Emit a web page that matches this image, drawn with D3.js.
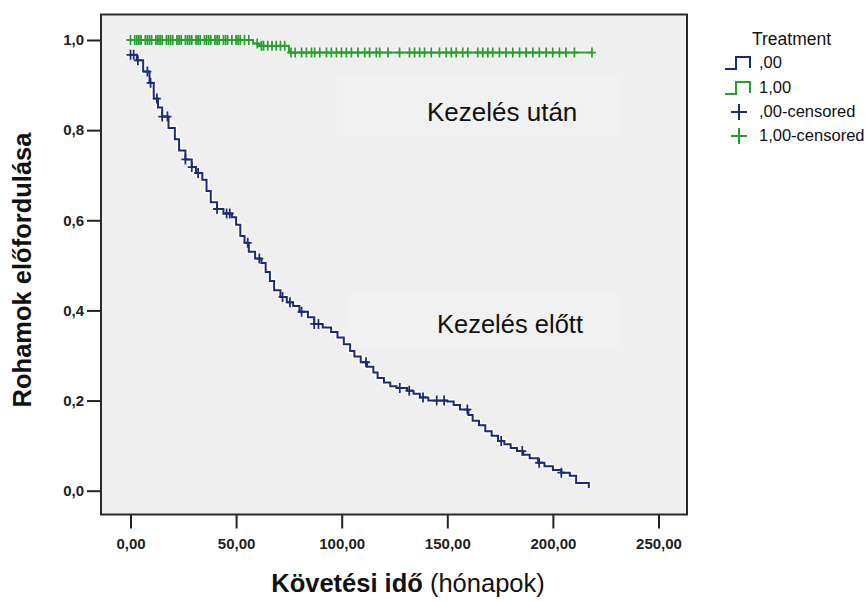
<!DOCTYPE html>
<html>
<head>
<meta charset="utf-8">
<script src="https://cdn.jsdelivr.net/npm/d3@7/dist/d3.min.js"></script>
<style>
  html, body { margin: 0; padding: 0; background: #ffffff; }
  svg { display: block; font-family: "Liberation Sans", Arial, sans-serif; }
</style>
</head>
<body>
<svg id="chart" width="865" height="601"></svg>
<script>
// ---- data ----
const xTickValues = [0, 50, 100, 150, 200, 250];
const xTickLabels = ["0,00", "50,00", "100,00", "150,00", "200,00", "250,00"];
const yTickValues = [0, 0.2, 0.4, 0.6, 0.8, 1.0];
const yTickLabels = ["0,0", "0,2", "0,4", "0,6", "0,8", "1,0"];

// Treatment ,00 (Kezelés előtt) – Kaplan-Meier steps
const blueTime = [0, 3, 6, 9, 11, 13, 15, 18, 21, 23, 26, 29, 31, 34, 36, 38, 41, 44, 48, 50,
  52, 54, 56, 59, 62, 64, 66, 68, 71, 74, 77, 80, 84, 87, 91, 95, 98, 101, 104, 106,
  109, 112, 115, 117, 120, 123, 126, 131, 134, 137, 141, 150, 153, 156, 160, 162, 165, 168, 171, 174,
  177, 180, 183, 186, 189, 193, 196, 200, 204, 208, 211, 217];
const blueSurv = [0.967, 0.955, 0.930, 0.905, 0.870, 0.850, 0.830, 0.805, 0.780, 0.755, 0.735, 0.718, 0.705, 0.690, 0.665, 0.640, 0.625, 0.615, 0.607, 0.590,
  0.565, 0.550, 0.530, 0.515, 0.505, 0.485, 0.465, 0.445, 0.430, 0.418, 0.410, 0.397, 0.385, 0.370, 0.362, 0.352, 0.340, 0.325, 0.310, 0.298,
  0.285, 0.275, 0.262, 0.250, 0.240, 0.232, 0.228, 0.222, 0.215, 0.207, 0.200, 0.198, 0.190, 0.180, 0.168, 0.155, 0.145, 0.132, 0.122, 0.110,
  0.103, 0.095, 0.088, 0.080, 0.072, 0.062, 0.054, 0.046, 0.040, 0.033, 0.017, 0.006];
const blueCensor = [0, 1.5, 3.5, 8, 9.5, 12.5, 15, 17.5, 26, 29, 32, 41, 45.5, 47, 55.5, 61, 72, 75.5,
  81, 87, 89, 111.5, 127.5, 132, 138.5, 145, 148.5, 159.5, 175.5, 185.5, 193.5, 204];

// Treatment 1,00 (Kezelés után)
const greenTime = [0, 58, 61, 75, 218.5];
const greenSurv = [1.0, 0.992, 0.987, 0.972, 0.972];
const greenCensor = [0, 2, 3, 4, 5, 7, 8, 9, 10, 12, 13, 14, 15, 17, 18, 19, 20, 22, 23, 24, 26, 27, 28, 29, 31, 32, 33, 35, 36, 37, 38,
  40, 41, 42, 44, 45, 46, 48, 50, 51, 52, 54, 56, 60, 62, 63, 65, 67, 69, 71, 73, 76, 78,
  81, 83.3, 85.7, 87.2, 89.6, 92.8, 95.1, 97.5, 99.9, 102.2, 104.6, 107.7, 110.9, 113.2, 116.4, 118, 121.9,
  127.4, 132.1, 134.5, 136.9, 139.2, 142.4, 146.3, 149.5, 151.9, 154.2, 157.3, 159.7, 164.4, 166.8, 169.2,
  171.5, 174.7, 177.8, 181, 184.2, 187.3, 190.5, 193.6, 196.8, 199.9, 203.1, 206.2, 210.2, 218.5];

const legendTitle = "Treatment";
const legendLabels = [",00", "1,00", ",00-censored", "1,00-censored"];
const blueColor = "#1b2a7a";
const greenColor = "#25a02b";

// ---- layout ----
const svg = d3.select("#chart");
const frame = { left: 101, right: 687, top: 14.5, bottom: 514.5 };
const x = d3.scaleLinear().domain([0, 250]).range([130.5, 658.5]);
const y = d3.scaleLinear().domain([0, 1]).range([490.7, 40]);

// plot background
svg.append("rect")
  .attr("x", frame.left).attr("y", frame.top)
  .attr("width", frame.right - frame.left).attr("height", frame.bottom - frame.top)
  .attr("fill", "#efefef");

// faint label panels
svg.append("rect").attr("x", 337).attr("y", 76).attr("width", 283).attr("height", 60).attr("fill", "#f1f1f1");
svg.append("rect").attr("x", 347).attr("y", 294).attr("width", 273).attr("height", 54).attr("fill", "#f1f1f1");

// axes
const yAxis = d3.axisLeft(y).tickValues(yTickValues)
  .tickFormat((d, i) => yTickLabels[i]).tickSize(14).tickPadding(3);
const gy = svg.append("g").attr("transform", `translate(${frame.left},0)`).call(yAxis);
gy.select(".domain").remove();
gy.selectAll("line").attr("stroke", "#222").attr("stroke-width", 2);
gy.selectAll("text").attr("font-size", 15).attr("font-weight", "bold").attr("fill", "#222")
  .attr("font-family", "Liberation Sans, Arial, sans-serif");

const xAxis = d3.axisBottom(x).tickValues(xTickValues)
  .tickFormat((d, i) => xTickLabels[i]).tickSize(14).tickPadding(10);
const gx = svg.append("g").attr("transform", `translate(0,${frame.bottom})`).call(xAxis);
gx.select(".domain").remove();
gx.selectAll("line").attr("stroke", "#222").attr("stroke-width", 2);
gx.selectAll("text").attr("font-size", 15).attr("font-weight", "bold").attr("fill", "#222")
  .attr("font-family", "Liberation Sans, Arial, sans-serif");

// frame border
svg.append("rect")
  .attr("x", frame.left).attr("y", frame.top)
  .attr("width", frame.right - frame.left).attr("height", frame.bottom - frame.top)
  .attr("fill", "none").attr("stroke", "#2a2a2a").attr("stroke-width", 2);

// survival helpers
function survAt(times, surv, t) {
  const i = d3.bisectRight(times, t) - 1;
  return surv[Math.max(0, i)];
}
const stepLine = d3.line().x(d => x(d[0])).y(d => y(d[1])).curve(d3.curveStepAfter);
const plusPath = "M-4,0H4M0,-5V5";

function drawSeries(times, surv, censor, color) {
  const pts = times.map((t, i) => [t, surv[i]]);
  const g = svg.append("g");
  // halo
  g.append("path").datum(pts).attr("d", stepLine)
    .attr("fill", "none").attr("stroke", "#ffffff").attr("stroke-width", 5).attr("stroke-linejoin", "round");
  g.selectAll(".halo").data(censor).join("path")
    .attr("transform", d => `translate(${x(d)},${y(survAt(times, surv, d))})`)
    .attr("d", plusPath).attr("stroke", "#ffffff").attr("stroke-width", 4.5).attr("fill", "none");
  g.append("path").datum(pts).attr("d", stepLine)
    .attr("fill", "none").attr("stroke", color).attr("stroke-width", 2);
  g.selectAll(".mark").data(censor).join("path")
    .attr("transform", d => `translate(${x(d)},${y(survAt(times, surv, d))})`)
    .attr("d", plusPath).attr("stroke", color).attr("stroke-width", 1.8).attr("fill", "none");
}
drawSeries(greenTime, greenSurv, greenCensor, greenColor);
drawSeries(blueTime, blueSurv, blueCensor, blueColor);

// annotations
svg.append("text").attr("x", 427).attr("y", 121).attr("font-size", 26).attr("fill", "#111").text("Kezelés után");
svg.append("text").attr("x", 437).attr("y", 333).attr("font-size", 25.5).attr("fill", "#111").text("Kezelés előtt");

// axis titles
svg.append("text")
  .attr("transform", "translate(31,270) rotate(-90)")
  .attr("text-anchor", "middle").attr("font-size", 25.5).attr("font-weight", "bold").attr("fill", "#111")
  .text("Rohamok előfordulása");
const xt = svg.append("text").attr("x", 408).attr("y", 592).attr("text-anchor", "middle")
  .attr("font-size", 25.5).attr("fill", "#111");
xt.append("tspan").attr("font-weight", "bold").text("Követési idő");
xt.append("tspan").text(" (hónapok)");

// legend
const lg = svg.append("g");
lg.append("text").attr("x", 752).attr("y", 45).attr("font-size", 17.5).attr("fill", "#111").text(legendTitle);
const legendColors = [blueColor, greenColor, blueColor, greenColor];
const legendY = [63, 88, 112, 136];
legendLabels.forEach((lab, i) => {
  const cy = legendY[i];
  if (i < 2) {
    lg.append("path").attr("d", `M725,${cy + 6}H736V${cy - 6}H750V${cy + 5}`)
      .attr("fill", "none").attr("stroke", legendColors[i]).attr("stroke-width", 2);
  } else {
    lg.append("path").attr("d", `M731,${cy}H747M739,${cy - 8}V${cy + 8}`)
      .attr("fill", "none").attr("stroke", legendColors[i]).attr("stroke-width", 2);
  }
  lg.append("text").attr("x", 759).attr("y", cy + 5).attr("font-size", 16.5).attr("fill", "#111").text(lab);
});
</script>
</body>
</html>
